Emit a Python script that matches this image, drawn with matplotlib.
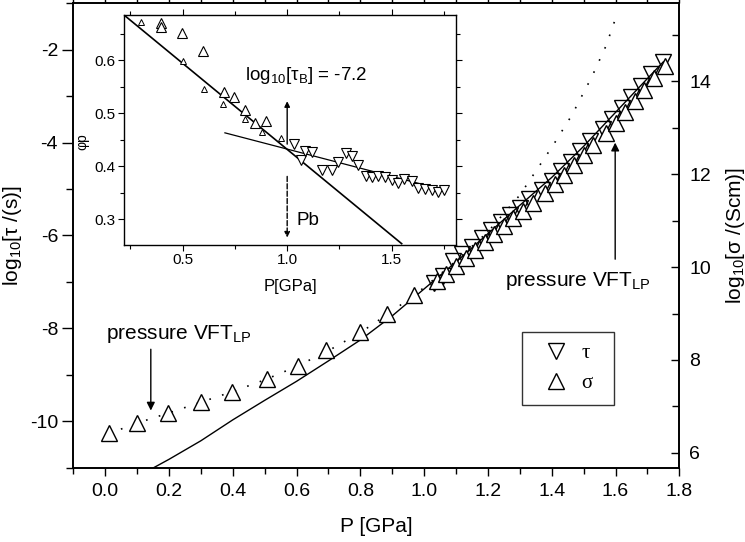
import numpy as np
import matplotlib.pyplot as plt
from matplotlib.lines import Line2D

plt.rcParams['font.family'] = ['Liberation Sans', 'DejaVu Sans']
plt.rcParams['mathtext.fontset'] = 'custom'
plt.rcParams['mathtext.rm'] = 'Liberation Sans'
plt.rcParams['mathtext.it'] = 'Liberation Sans:italic'
plt.rcParams['mathtext.bf'] = 'Liberation Sans:bold'
plt.rcParams['axes.unicode_minus'] = False


# --------------------------------- #
# main plot data

# relaxation time, left axis
p_tau = [1.03, 1.06, 1.09, 1.12, 1.15, 1.18, 1.21, 1.24, 1.27, 1.30, 1.33, 1.37,
         1.40, 1.43, 1.46, 1.49, 1.52, 1.56, 1.59, 1.62, 1.65, 1.68, 1.71, 1.75]
log_tau = [-7.02, -6.88, -6.55, -6.39, -6.24, -6.06, -5.89, -5.72, -5.55, -5.40, -5.22, -5.01,
           -4.82, -4.61, -4.41, -4.19, -3.97, -3.71, -3.49, -3.25, -3.02, -2.78, -2.52, -2.27]

# conductivity, right axis
p_sigma = [0.013, 0.099, 0.198, 0.300, 0.399, 0.506, 0.606, 0.692, 0.799, 0.883, 0.968,
           1.04, 1.07, 1.10, 1.13, 1.16, 1.19, 1.22, 1.25, 1.28, 1.31, 1.34, 1.38,
           1.41, 1.44, 1.47, 1.50, 1.53, 1.57, 1.60, 1.63, 1.66, 1.69, 1.72, 1.755]
log_sigma = [6.42, 6.65, 6.85, 7.09, 7.30, 7.58, 7.88, 8.21, 8.60, 8.99, 9.40,
             9.70, 9.85, 10.03, 10.19, 10.36, 10.53, 10.71, 10.88, 11.05, 11.21, 11.39, 11.60,
             11.79, 11.99, 12.19, 12.41, 12.63, 12.89, 13.11, 13.35, 13.58, 13.82, 14.08, 14.33]

# pressure VFT fits
p_fit_tau = [0.152, 0.2, 0.3, 0.4, 0.5, 0.6, 0.7, 0.8, 0.9, 1.0,
             1.1, 1.2, 1.3, 1.4, 1.5, 1.6, 1.7, 1.75]
fit_tau = [-11.0, -10.82, -10.42, -9.97, -9.55, -9.14, -8.70, -8.25, -7.73, -7.15,
           -6.57, -5.96, -5.35, -4.75, -4.08, -3.35, -2.62, -2.26]
p_fit_sigma = [0.01, 0.1, 0.2, 0.3, 0.4, 0.5, 0.6, 0.7, 0.8, 0.9, 1.0,
               1.1, 1.2, 1.3, 1.405, 1.463, 1.526, 1.570, 1.600]
fit_sigma = [6.41, 6.64, 6.86, 7.09, 7.32, 7.57, 7.86, 8.20, 8.59, 9.05, 9.56,
             10.13, 10.76, 11.55, 12.63, 13.27, 14.10, 14.76, 15.35]

# --------------------------------- #
# inset data

p_in_big = [0.396, 0.396, 0.495, 0.599, 0.699, 0.747, 0.798, 0.846, 0.897]
phi_in_big = [0.670, 0.662, 0.6515, 0.6175, 0.5402, 0.5308, 0.5057, 0.4806, 0.4855]
p_in_small = [0.299, 0.503, 0.603, 0.694, 0.798, 0.878, 0.969]
phi_in_small = [0.6723, 0.5987, 0.5447, 0.5164, 0.4881, 0.4647, 0.4534]
p_in_down = [1.034, 1.065, 1.085, 1.117, 1.165, 1.213, 1.245, 1.281, 1.309, 1.340, 1.376, 1.404,
             1.436, 1.468, 1.500, 1.532, 1.559, 1.596, 1.627, 1.659, 1.691, 1.723, 1.750]
phi_in_down = [0.4428, 0.4113, 0.4289, 0.4270, 0.3925, 0.3925, 0.4081, 0.4240, 0.4189, 0.4019,
               0.3811, 0.3798, 0.3811, 0.3798, 0.3736, 0.3685, 0.3755, 0.3723, 0.3598, 0.3579,
               0.3547, 0.3515, 0.3560]

p_steep = [0.219, 1.548]
phi_steep = [0.685, 0.254]
p_shallow = [0.702, 1.723]
phi_shallow = [0.4629, 0.358]

p_b = 1.0


# --------------------------------- #

fig = plt.figure(figsize=(7.45, 5.42), dpi=100)
ax = fig.add_axes([0.0984, 0.1371, 0.8134, 0.8568])
ax2 = ax.twinx()

ax.plot(p_fit_tau, fit_tau, color='k', lw=1.0)
ax2.plot(p_fit_sigma, fit_sigma, color='k', lw=1.2, ls=(0, (1, 7)))
ax2.plot(p_sigma, log_sigma, ls='none', marker='^', ms=11.5, mfc='white', mec='k', mew=1.0)
ax.plot(p_tau, log_tau, ls='none', marker='v', ms=12, mfc='none', mec='k', mew=1.0)

ax.set_xlim(-0.1, 1.8)
ax.set_ylim(-11, -1)
ax2.set_ylim(5.68, 15.68)

ax.set_xticks(np.arange(0, 1.81, 0.2))
ax.set_xticks(np.arange(-0.1, 1.81, 0.1), minor=True)
ax.set_yticks([-10, -8, -6, -4, -2])
ax.set_yticks(np.arange(-11, -0.9, 1), minor=True)
ax2.set_yticks([6, 8, 10, 12, 14])
ax2.set_yticks(np.arange(6, 15.1, 1), minor=True)
ax.xaxis.set_major_formatter(plt.FormatStrFormatter('%.1f'))

ax.tick_params(axis='x', which='both', direction='out', top=True, labelsize=14, pad=5)
ax.tick_params(axis='x', which='major', length=6, width=1)
ax.tick_params(axis='x', which='minor', length=4, width=1)
ax.tick_params(axis='y', which='both', direction='out', labelsize=14, pad=3)
ax.tick_params(axis='y', which='major', length=8, width=1)
ax.tick_params(axis='y', which='minor', length=5, width=1)
ax2.tick_params(axis='y', which='both', direction='in', labelsize=14, pad=7)
ax2.tick_params(axis='y', which='major', length=6, width=1)
ax2.tick_params(axis='y', which='minor', length=5, width=1)
for a in (ax, ax2):
    for s in a.spines.values():
        s.set_linewidth(1.2)

ax.set_xlabel('P [GPa]', fontsize=15)
ax.xaxis.set_label_coords(0.5, -0.107)
ax.set_ylabel('log$_{10}$[τ /(s)]', fontsize=15)
ax.yaxis.set_label_coords(-0.082, 0.5)
ax2.set_ylabel('log$_{10}$[σ /(Scm)]', fontsize=15)
ax2.yaxis.set_label_coords(1.073, 0.5)

ax.text(0.231, -8.12, 'pressure VFT$_\\mathrm{LP}$', fontsize=15, ha='center', va='center')
ax.annotate('', xy=(0.143, -9.83), xytext=(0.143, -8.39),
            arrowprops=dict(arrowstyle='-|>', color='k', lw=1.0, mutation_scale=12))
ax.text(1.483, -6.98, 'pressure VFT$_\\mathrm{LP}$', fontsize=15, ha='center', va='center')
ax.annotate('', xy=(1.599, -3.94), xytext=(1.599, -6.57),
            arrowprops=dict(arrowstyle='-|>', color='k', lw=1.0, mutation_scale=12))

handles = [Line2D([], [], ls='none', marker='v', ms=11, mfc='white', mec='k'),
           Line2D([], [], ls='none', marker='^', ms=11, mfc='white', mec='k')]
leg = ax2.legend(handles, ['τ', 'σ'], loc='center', bbox_to_anchor=(0.740, 0.133, 0.153, 0.162),
                 mode='expand', frameon=True, fancybox=False, edgecolor='k', borderpad=0.55,
                 handlelength=2.2, handletextpad=0.1, labelspacing=0.5, borderaxespad=0,
                 prop={'family': 'Liberation Serif', 'size': 15})
leg.get_frame().set_linewidth(1.0)

# --------------------------------- #
# inset

axi = fig.add_axes([0.16644, 0.54797, 0.44564, 0.42435])
axi.set_facecolor('white')
axi.plot(p_steep, phi_steep, color='k', lw=1.2)
axi.plot(p_shallow, phi_shallow, color='k', lw=0.9)
axi.plot(p_in_big, phi_in_big, ls='none', marker='^', ms=6.7, mfc='white', mec='k', mew=0.8)
axi.plot(p_in_small, phi_in_small, ls='none', marker='^', ms=4.5, mfc='white', mec='k', mew=0.7)
axi.plot(p_in_down, phi_in_down, ls='none', marker='v', ms=7.2, mfc='white', mec='k', mew=0.8)

axi.annotate('', xy=(p_b, 0.5277), xytext=(p_b, 0.4364),
             arrowprops=dict(arrowstyle='-|>', color='k', lw=1.0, mutation_scale=8))
axi.annotate('', xy=(p_b, 0.2604), xytext=(p_b, 0.386),
             arrowprops=dict(arrowstyle='-|>', color='k', lw=1.0, ls='--', mutation_scale=8))
axi.text(1.093, 0.5717, 'log$_{10}$[τ$_\\mathrm{B}$] = -7.2', fontsize=13.5, ha='center', va='center')
axi.text(1.10, 0.298, 'Pb', fontsize=13.5, ha='center', va='center')

axi.set_xlim(0.219, 1.808)
axi.set_ylim(0.2515, 0.685)
axi.set_xticks([0.5, 1.0, 1.5])
axi.set_xticks(np.arange(0.25, 1.80, 0.25), minor=True)
axi.set_yticks([0.3, 0.4, 0.5, 0.6])
axi.set_yticks(np.arange(0.3, 0.66, 0.05), minor=True)
axi.tick_params(which='both', direction='out', top=True, right=True, labelsize=11, pad=2)
axi.tick_params(which='major', length=4, width=0.8)
axi.tick_params(which='minor', length=3, width=0.8)
for s in axi.spines.values():
    s.set_linewidth(1.0)
axi.set_xlabel('P[GPa]', fontsize=12)
axi.xaxis.set_label_coords(0.5, -0.15)
axi.set_ylabel('φp', fontsize=10)
axi.yaxis.set_label_coords(-0.105, 0.45)

fig.savefig('out.png', dpi=100)
